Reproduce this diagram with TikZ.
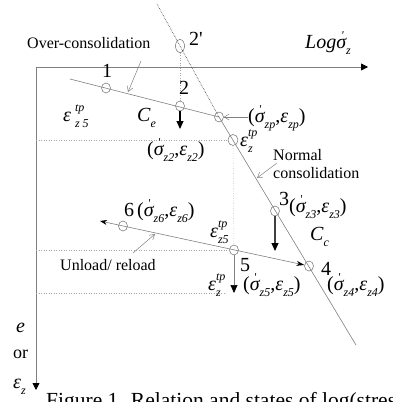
\documentclass[tikz,border=0pt]{standalone}
\usepackage{fontspec}
\setmainfont{Liberation Serif}
\usetikzlibrary{arrows.meta,shapes.geometric}
\newcommand{\mysub}[1]{\raisebox{-0.3em}{\fontsize{12}{12}\selectfont\itshape #1}}
\newcommand{\mysup}[1]{\raisebox{0.5em}{\fontsize{12}{12}\selectfont\itshape #1}}
\newcommand{\mysupsub}[2]{\rlap{\mysup{#1}}\mysub{#2}}
\newcommand{\myeps}{{\itshape ε}}
\newcommand{\mysig}{{\itshape σ}}
\newcommand{\mysigp}[1]{\mysig\rlap{\kern-0.25em\raisebox{0.42em}{\fontsize{12}{12}\selectfont\textquotesingle}}\mysub{#1}}
\newcommand{\mypair}[1]{(\mysigp{z#1},\myeps\mysub{z#1})}
\begin{document}
\begin{tikzpicture}[x=1pt,y=-1pt,
  lbl/.style={font=\fontsize{20}{24}\selectfont, inner sep=0pt, anchor=base west},
  txt/.style={font=\fontsize{16}{19}\selectfont, inner sep=0pt, anchor=base west},
  pt/.style={ellipse, draw=gray!85!black, line width=0.5pt, minimum width=9pt, minimum height=10pt, inner sep=0pt},
  guide/.style={gray!70, line width=0.5pt, dotted},
  ncdot/.style={black!80, line width=0.6pt, densely dotted},
  thinline/.style={gray, line width=0.6pt},
  callout/.style={gray, line width=0.5pt, -{Straight Barb[length=5pt,width=6pt]}},
  axis/.style={gray, line width=0.8pt, -{Triangle[length=7pt,width=7pt,color=black]}},
  drop/.style={line width=1.2pt, -{Triangle[length=8pt,width=7pt,color=black]}}
]
\useasboundingbox (0,0) rectangle (393,402);
% axes
\coordinate (O) at (36,67);
\coordinate (xE) at (368,67);
\coordinate (yE) at (36,390);
\draw[axis] (O) -- (xE);
\draw[axis] (O) -- (yE);
% state points
\node[pt] (c1) at (106,88) {};
\node[pt] (c2) at (180,106) {};
\node[pt, minimum height=13pt] (c2p) at (180,46) {};
\node[pt] (czp) at (219,117) {};
\node[pt, minimum width=10pt, minimum height=11pt] (cez) at (233,140) {};
\node[pt] (c3) at (275,211) {};
\node[pt] (c4) at (309,266) {};
\node[pt] (c5) at (234,250) {};
\node[pt] (c6) at (123,226) {};
% lines
\coordinate (ceS) at (70,79);
\draw[thinline] (ceS) -- (czp.center);
\coordinate (ncT) at (157,4);
\coordinate (ncB) at (356,345);
\draw[ncdot] (ncT) -- (czp.center);
\draw[thinline] (czp.center) -- (ncB);
\coordinate (ulS) at (100,221);
\draw[thinline, {Stealth[length=7pt,width=5pt,color=black]}-{Stealth[length=8pt,width=5pt,color=black]}] (ulS) -- (c4);
% guides
\draw[guide] (c2p) -- (c2);
\coordinate (g1) at (36,140);
\draw[guide] (g1) -- (cez);
\draw[guide] (cez) -- (c5);
\coordinate (g2) at (36,250);
\draw[guide] (g2) -- (c5);
\coordinate (g3a) at (36,293);
\coordinate (g3b) at (226,293);
\draw[guide] (g3a) -- (g3b);
% drops
\coordinate (d2) at (180,129);
\draw[drop] (c2) -- (d2);
\coordinate (d3) at (275,251);
\draw[drop, black!75] (c3) -- (d3);
\coordinate (d5) at (234,293);
\draw[gray, line width=0.7pt, -{Triangle[length=8pt,width=7pt,color=black]}] (c5) -- (d5);
% labels
\node[txt] (toc) at (27,48) {Over-consolidation};
\coordinate (oc1) at (141,61);
\coordinate (oc2) at (128,92);
\draw[callout] (oc1) -- (oc2);
\node[lbl] (t2p) at (189,45) {2\textquotesingle};
\node[lbl] (tlog) at (305,48) {\itshape Log\mysigp{z}};
\node[lbl] (t1) at (102,77) {1};
\node[lbl] (t2) at (179,94) {2};
\node[lbl] (tez5a) at (63,121) {\myeps\hspace{4pt}\mysupsub{tp}{z 5}};
\node[lbl] (tce) at (137,121) {\itshape C\mysub{e}};
\node[lbl] (tzp) at (248,122) {\mypair{p}};
\draw[callout] (tzp.west |- czp) -- (czp.east);
\node[lbl] (tz2) at (147,155) {\mypair{2}};
\node[lbl] (tezA) at (240,146) {\myeps\mysupsub{tp}{z}};
\node[txt] (tn1) at (273,160) {Normal};
\node[txt] (tn2) at (273,178) {consolidation};
\coordinate (nc1) at (277,163);
\coordinate (nc2) at (257,178);
\draw[callout] (nc1) -- (nc2);
\node[lbl] (t3) at (279,205) {3};
\node[lbl] (tz3) at (289,212) {\mypair{3}};
\node[lbl] (tcc) at (310,240) {\itshape C\mysub{c}};
\node[lbl] (t6) at (124,216) {6};
\node[lbl] (tz6) at (137,216) {\mypair{6}};
\node[txt] (tul) at (60,270) {Unload/ reload};
\coordinate (ul1) at (133,253);
\coordinate (ul2) at (155,234);
\draw[callout] (ul1) -- (ul2);
\node[lbl] (tez5b) at (210,237) {\myeps\mysupsub{tp}{z5}};
\node[lbl] (t5) at (240,271) {5};
\node[lbl] (tz5) at (243,290) {\mypair{5}};
\node[lbl] (tezB) at (208,290) {\myeps\mysupsub{tp}{z}};
\node[lbl] (t4) at (321,275) {4};
\node[lbl] (tz4) at (327,290) {\mypair{4}};
\node[lbl] (te) at (16,332) {\itshape e};
\node[txt, font=\fontsize{18}{20}\selectfont] (tor) at (13,358) {or};
\node[lbl] (tepsz) at (13,388) {\myeps\mysub{z}};
\node[txt, font=\fontsize{21.5}{24}\selectfont] (cap) at (46,407) {Figure 1. Relation and states of log(stres};
\end{tikzpicture}
\end{document}
